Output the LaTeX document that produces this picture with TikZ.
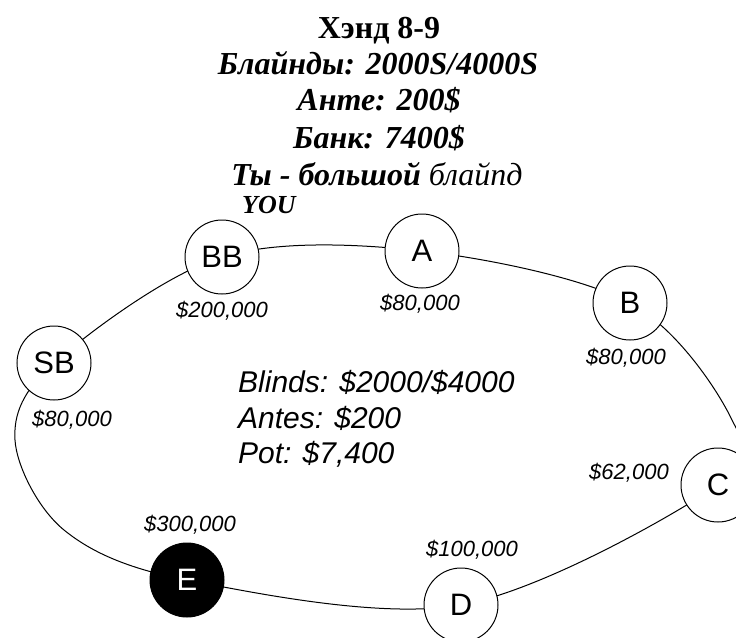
\documentclass[tikz,border=0pt]{standalone}
\usepackage{fontspec}
\setmainfont{Liberation Serif}
\setsansfont{Liberation Sans}
\usetikzlibrary{backgrounds}
\begin{document}
\begin{tikzpicture}[x=1pt,y=-1pt,
  seat/.style={circle,draw,line width=1pt,fill=white,minimum size=74pt,inner sep=0pt,
    font=\sffamily\fontsize{31}{31}\selectfont},
  hero/.style={seat,fill=black,text=white},
  stack/.style={font=\sffamily\itshape\fontsize{22}{22}\selectfont,inner sep=0pt},
  info/.style={font=\sffamily\itshape\fontsize{30}{30}\selectfont,inner sep=0pt,anchor=base west},
  titleline/.style={font=\fontsize{32}{32}\selectfont,inner sep=0pt,anchor=base},
  rail/.style={line width=1pt}]
\useasboundingbox (0,0) rectangle (736,637);
% title
\node[titleline] (t1) at (379,38) {\bfseries Хэнд 8-9};
\node[titleline] (t2) at (378,74) {\bfseries\itshape Блайнды: 2000S/4000S};
\node[titleline] (t3) at (379,110) {\bfseries\itshape Анте: 200\$};
\node[titleline] (t4) at (379,148) {\bfseries\itshape Банк: 7400\$};
\node[titleline] (t5) at (377,185) {{\bfseries\itshape Ты - большой} {\itshape блайпд}};
\node[font=\bfseries\itshape\fontsize{26}{26}\selectfont,inner sep=0pt,anchor=base west] (you) at (242,213) {YOU};
% seats
\node[seat] (BB) at (222,257) {BB};
\node[seat] (A) at (422,251) {A};
\node[seat] (B) at (630,303) {B};
\node[seat] (C) at (718,485) {C};
\node[seat] (D) at (461,605) {D};
\node[hero] (E) at (187,580) {E};
\node[seat] (SB) at (54,363) {SB};
% stacks
\node[stack] (sBB) at (222,311) {\$200,000};
\node[stack] (sA) at (420,304) {\$80,000};
\node[stack] (sB) at (626,358) {\$80,000};
\node[stack] (sSB) at (72,420) {\$80,000};
\node[stack] (sC) at (629,473) {\$62,000};
\node[stack] (sD) at (472,550) {\$100,000};
\node[stack] (sE) at (190,525) {\$300,000};
% info
\node[info] (i1) at (238,392) {Blinds: \$2000/\$4000};
\node[info] (i2) at (238,428) {Antes: \$200};
\node[info] (i3) at (238,463) {Pot: \$7,400};
% table rail
\coordinate (r1) at (731,418);
\coordinate (l1) at (15,440);
\coordinate (l2) at (64,530);
\begin{scope}[on background layer]
\draw[rail] plot[smooth cycle,tension=0.55] coordinates {(BB) (A) (B) (r1) (C) (D) (E) (l2) (l1) (SB)};
\end{scope}
\end{tikzpicture}
\end{document}
